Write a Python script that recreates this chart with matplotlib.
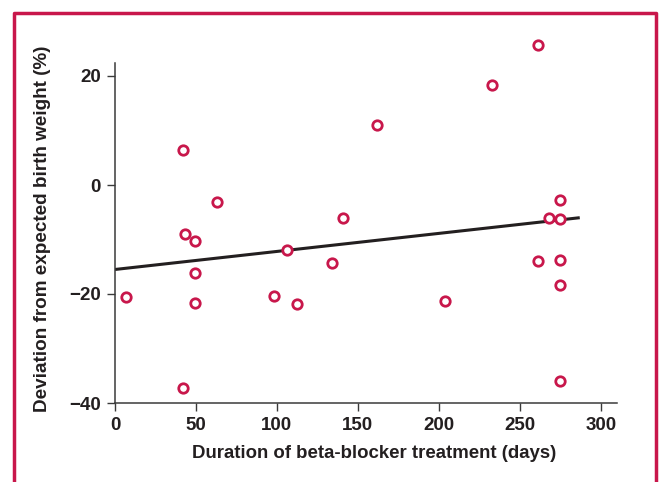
import numpy as np
import matplotlib.pyplot as plt
from matplotlib.lines import Line2D
from matplotlib import font_manager

# data
duration = [7, 42, 43, 42, 49.5, 49.5, 49.5, 63, 98, 106, 112.5, 134, 141, 162,
            204, 232.5, 261, 261, 268, 274.5, 274.5, 275, 274.5, 274.5]
deviation = [-20.6, 6.5, -9.0, -37.3, -10.2, -16.2, -21.7, -3.1, -20.3, -12.0, -21.9,
             -14.4, -6.0, 11.1, -21.2, 18.4, 25.6, -13.9, -6.0, -2.8, -6.3, -13.7,
             -18.4, -35.9]
fit_x = [0, 287]
fit_y = [-15.5, -6.0]
xticks = [0, 50, 100, 150, 200, 250, 300]
yticks = [-40, -20, 0, 20]

names = {f.name for f in font_manager.fontManager.ttflist}
fam = ['Liberation Sans Narrow'] if 'Liberation Sans Narrow' in names else []
plt.rcParams['font.family'] = fam + ['Liberation Sans', 'DejaVu Sans']

red = '#c8174b'
ink = '#231f20'

fig = plt.figure(figsize=(6.59, 4.82), dpi=100)
ax = fig.add_axes([115/659, 79/482, 502/659, 370.6/482])

ax.plot(fit_x, fit_y, color=ink, lw=2.2, solid_capstyle='butt', zorder=2)
ax.plot(duration, deviation, 'o', mfc='white', mec=red, mew=2.0, ms=6.8,
        clip_on=False, zorder=3)

ax.set_xlim(0, 310)
ax.set_ylim(-40, 28)
for s in ['top', 'right']:
    ax.spines[s].set_visible(False)
ax.spines['left'].set_bounds(-40, 22.4)
for s in ['left', 'bottom']:
    ax.spines[s].set_color('#3a3a3a')
    ax.spines[s].set_linewidth(1.1)

ax.set_xticks(xticks)
ax.set_yticks(yticks)
ax.set_yticklabels([str(v).replace('-', '\u2212') for v in yticks])
ax.tick_params(direction='out', length=6, width=1.0, color='#3a3a3a',
               labelsize=13.5, labelcolor=ink, pad=4)
for lab in ax.get_xticklabels() + ax.get_yticklabels():
    lab.set_fontweight('bold')

ax.set_xlabel('Duration of beta-blocker treatment (days)', fontsize=13.4,
              fontweight='bold', color=ink)
ax.set_ylabel('Deviation from expected birth weight (%)', fontsize=13.6,
              fontweight='bold', color=ink)
ax.xaxis.set_label_coords(0.516, -0.112)
ax.yaxis.set_label_coords(-0.128, 0.47)

# crimson frame, open at the bottom
fig.add_artist(Line2D([14/659, 14/659, 656/659, 656/659],
                      [0, 1 - 13/482, 1 - 13/482, 0],
                      transform=fig.transFigure, color=red, lw=2.5))

fig.savefig('out.png', dpi=100)
